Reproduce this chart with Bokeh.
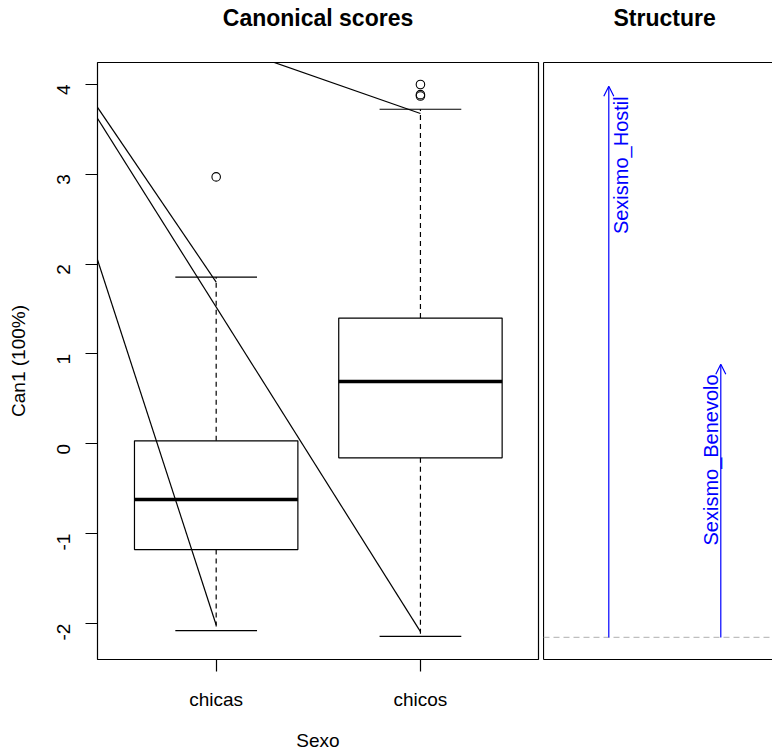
import math
from bokeh.plotting import figure
from bokeh.models import (ColumnDataSource, FixedTicker, LinearAxis, Arrow,
                          OpenHead, Span)
from bokeh.layouts import row, column
from bokeh.embed import file_html
from bokeh.resources import INLINE
from bokeh.core.properties import value

# ---------------- data ----------------
groups = ["chicas", "chicos"]
group_pos = [1, 2]
q1 = [-1.177, -0.156]
median = [-0.620, 0.694]
q3 = [0.033, 1.399]
whisk_lo = [-2.079, -2.142]
whisk_hi = [1.855, 3.723]
outlier_group = [1, 2, 2, 2]
outlier_val = [2.97, 3.998, 3.885, 3.870]
fan_origin_x = -0.046
fan_origin_y = 5.30
fan_end_x = [1, 2, 1, 2]
fan_end_y = [1.80, -2.09, -2.016, 3.675]
y_ticks = [-2, -1, 0, 1, 2, 3, 4]

variables = ["Sexismo_Hostil", "Sexismo_Benevolo"]
var_pos = [1, 2]
structure = [0.997, 0.494]

panel_titles = ["Canonical scores", "Structure"]

# ---------------- layout / style ----------------
FONT = "Liberation Sans"
LW = 1.2
BOX_HALF = 0.4
CAP_HALF = 0.2
TOP_H = 61            # height of the strip holding the titles
BORDER_L1 = 97
FW1 = 441
BORDER_R1 = 5
FH = 597
BORDER_B = 91
FW2 = 229
PX_PER_UNIT2 = 112
X2_START = 0.417
X2_FULL_END = 2.58    # right end of the (cropped) structure panel
TITLE_Y = 44          # title baseline height inside the strip

# ---------------- left panel ----------------
X1 = (0.419, 2.578)
Y1 = (-2.40, 4.243)
p1 = figure(x_range=X1, y_range=Y1,
            frame_width=FW1, frame_height=FH,
            min_border_left=BORDER_L1, min_border_right=BORDER_R1,
            min_border_top=1, min_border_bottom=BORDER_B,
            output_backend="svg", toolbar_location=None)
p1.grid.visible = False
p1.outline_line_color = "black"
p1.outline_line_width = LW
p1.background_fill_color = "white"
p1.border_fill_color = "white"

xa = p1.xaxis[0]
xa.ticker = FixedTicker(ticks=group_pos)
xa.major_label_overrides = {g: n for g, n in zip(group_pos, groups)}
xa.axis_label = "Sexo"
ya = p1.yaxis[0]
ya.ticker = FixedTicker(ticks=y_ticks)
ya.major_label_overrides = {t: str(t) for t in y_ticks}
ya.axis_label = "Can1 (100%)"
ya.major_label_orientation = math.pi / 2
for ax in (xa, ya):
    ax.axis_line_color = None
    ax.major_tick_out = 12
    ax.major_tick_in = 0
    ax.minor_tick_out = 0
    ax.minor_tick_in = 0
    ax.major_tick_line_color = "black"
    ax.major_tick_line_width = LW
    ax.major_label_text_font = FONT
    ax.major_label_text_font_size = "19px"
    ax.major_label_text_color = "black"
    ax.axis_label_text_font = FONT
    ax.axis_label_text_font_size = "19px"
    ax.axis_label_text_font_style = "normal"
    ax.axis_label_text_color = "black"
xa.major_label_standoff = 17
xa.axis_label_standoff = 17
ya.major_label_standoff = 22
ya.axis_label_standoff = 19

# fan of lines
p1.segment(x0=[fan_origin_x] * len(fan_end_x), y0=[fan_origin_y] * len(fan_end_y),
           x1=fan_end_x, y1=fan_end_y, line_color="black", line_width=LW)

# boxes
bx = ColumnDataSource(dict(
    left=[g - BOX_HALF for g in group_pos], right=[g + BOX_HALF for g in group_pos],
    x=group_pos, q1=q1, q3=q3, med=median, lo=whisk_lo, hi=whisk_hi,
    cl=[g - CAP_HALF for g in group_pos], cr=[g + CAP_HALF for g in group_pos]))
p1.segment(x0="x", y0="q3", x1="x", y1="hi", source=bx, line_color="black",
           line_width=LW, line_dash="5 4")
p1.segment(x0="x", y0="q1", x1="x", y1="lo", source=bx, line_color="black",
           line_width=LW, line_dash="5 4")
p1.segment(x0="cl", y0="hi", x1="cr", y1="hi", source=bx, line_color="black", line_width=LW)
p1.segment(x0="cl", y0="lo", x1="cr", y1="lo", source=bx, line_color="black", line_width=LW)
p1.quad(left="left", right="right", bottom="q1", top="q3", source=bx,
        fill_color=None, line_color="black", line_width=LW)
p1.segment(x0="left", y0="med", x1="right", y1="med", source=bx,
           line_color="black", line_width=3.6)
p1.scatter(x=outlier_group, y=outlier_val, marker="circle", size=8.5,
           fill_color=None, line_color="black", line_width=1.1)

# ---------------- right panel ----------------
Y2 = (-0.04, 1.04)
p2 = figure(x_range=(X2_START, X2_START + FW2 / PX_PER_UNIT2), y_range=Y2,
            frame_width=FW2, frame_height=FH,
            min_border_left=0, min_border_right=0,
            min_border_top=1, min_border_bottom=BORDER_B,
            x_axis_location=None, y_axis_location=None,
            output_backend="svg", toolbar_location=None)
p2.grid.visible = False
p2.outline_line_color = None
p2.background_fill_color = "white"
p2.border_fill_color = "white"

for loc in ("left", "above", "below"):
    ax = LinearAxis(ticker=FixedTicker(ticks=[]), axis_line_color="black",
                    axis_line_width=LW, major_tick_out=0, major_tick_in=0,
                    minor_tick_out=0, minor_tick_in=0,
                    major_label_text_font_size="0px", major_label_standoff=0)
    p2.add_layout(ax, loc)

p2.add_layout(Span(location=0, dimension="width", line_color="#BEBEBE",
                   line_dash="6 4", line_width=LW))

src = ColumnDataSource(dict(x=var_pos, y0=[0] * len(var_pos), y1=structure,
                            name=variables, xo=[12, -10]))
p2.add_layout(Arrow(end=OpenHead(size=10, line_color="blue", line_width=LW),
                    x_start="x", y_start="y0", x_end="x", y_end="y1",
                    source=src, line_color="blue", line_width=LW))
p2.text(x="x", y="y1", text="name", source=src, angle=math.pi / 2,
        text_align="right", text_baseline="alphabetic", x_offset="xo", y_offset=10,
        text_color="blue", text_font=value(FONT), text_font_size="20px")

# ---------------- title strip ----------------
W_TOTAL = BORDER_L1 + FW1 + BORDER_R1 + FW2
title_x = [BORDER_L1 + FW1 / 2,
           BORDER_L1 + FW1 + BORDER_R1 + ((X2_START + X2_FULL_END) / 2 - X2_START) * PX_PER_UNIT2]
pt = figure(x_range=(0, W_TOTAL), y_range=(0, TOP_H), width=W_TOTAL, height=TOP_H,
            min_border=0, x_axis_location=None, y_axis_location=None,
            output_backend="svg", toolbar_location=None)
pt.grid.visible = False
pt.outline_line_color = None
pt.background_fill_color = "white"
pt.border_fill_color = "white"
pt.text(x=title_x, y=[TITLE_Y] * len(title_x), text=panel_titles,
        text_align="center", text_baseline="alphabetic", text_color="black",
        text_font=value(FONT), text_font_size="23px", text_font_style="bold")

layout = column(pt, row(p1, p2))
open("out.html", "w").write(file_html(layout, INLINE))
